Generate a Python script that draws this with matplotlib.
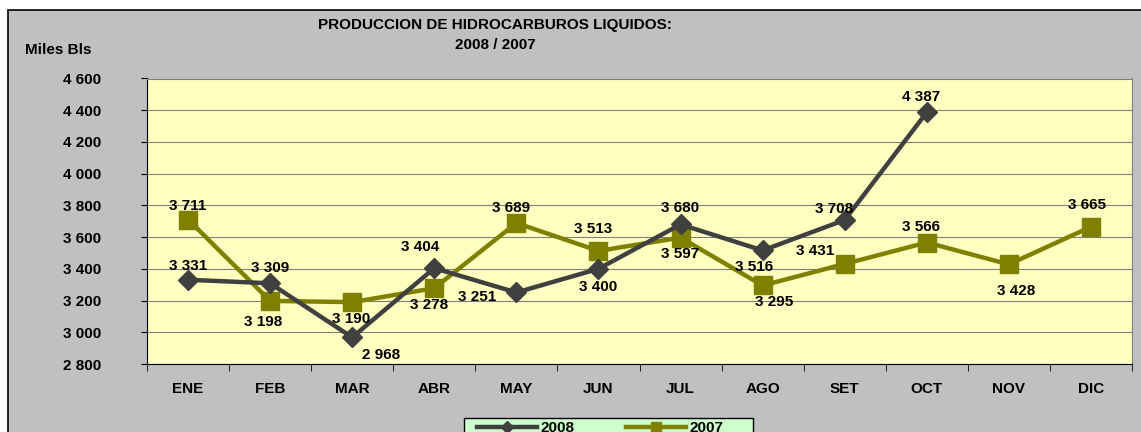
import matplotlib.pyplot as plt
from matplotlib.patches import Rectangle
from matplotlib.ticker import FuncFormatter

plt.rcParams['font.family'] = ['Liberation Sans', 'DejaVu Sans']
plt.rcParams['font.weight'] = 'bold'

# monthly production, thousand barrels
months = ['ENE', 'FEB', 'MAR', 'ABR', 'MAY', 'JUN', 'JUL', 'AGO', 'SET', 'OCT', 'NOV', 'DIC']
prod_2008 = [3331, 3309, 2968, 3404, 3251, 3400, 3680, 3516, 3708, 4387]
prod_2007 = [3711, 3198, 3190, 3278, 3689, 3513, 3597, 3295, 3431, 3566, 3428, 3665]

# label offsets in points (dx, dy) to mimic the excel placement
off_2008 = [(0, 10), (0, 11), (21, -13), (-10, 15), (-28, -3), (0, -13), (0, 12), (-6, -12), (-8, 8), (-4, 11)]
off_2007 = [(0, 10), (-5, -15), (-1, -12), (-4, -12), (-4, 11), (-4, 16), (0, -12), (8, -12), (-21, 9), (-4, 11), (5, -19), (-3, 16)]

FS = 11
W, H = 1141, 432

def fmt(v):
    return '{:,}'.format(int(v)).replace(',', ' ')

fig = plt.figure(figsize=(W / 100, H / 100), dpi=100, facecolor='white')
# gray chart area with black border (bottom/right run off the image)
fig.patches.append(Rectangle((8 / W, -0.1), 1.2, 1 - 10 / H + 0.1, transform=fig.transFigure,
                             facecolor='#C0C0C0', edgecolor='black', linewidth=1.2, zorder=-10))
# legend box, also cut by the bottom edge
fig.patches.append(Rectangle((464 / W, -0.1), 289 / W, 1 - 418 / H + 0.1, transform=fig.transFigure,
                             facecolor='#CCFFCC', edgecolor='black', linewidth=1.0, zorder=1))

ax = fig.add_axes([147 / W, 68 / H, 985 / W, 285.5 / H])
ax.set_facecolor('#FFFFC0')

x = list(range(len(months)))
ax.plot(x[:len(prod_2008)], prod_2008, color='#404040', lw=3.2, marker='D', ms=10,
        label='2008', zorder=4)
ax.plot(x, prod_2007, color='#808000', lw=3.2, marker='s', ms=12.5, label='2007', zorder=3)

for i, v in enumerate(prod_2008):
    ax.annotate(fmt(v), (i, v), xytext=off_2008[i], textcoords='offset points',
                ha='center', va='center', fontsize=FS, fontweight='bold', zorder=6)
for i, v in enumerate(prod_2007):
    ax.annotate(fmt(v), (i, v), xytext=off_2007[i], textcoords='offset points',
                ha='center', va='center', fontsize=FS, fontweight='bold', zorder=6)

ax.set_xlim(-0.5, 11.5)
ax.set_ylim(2800, 4600)
ax.set_yticks(range(2800, 4601, 200))
ax.yaxis.set_major_formatter(FuncFormatter(lambda v, p: fmt(v)))
ax.grid(axis='y', color='#808080', lw=0.8)
ax.set_axisbelow(True)

ax.set_xticks(x)
ax.set_xticklabels(months, fontsize=FS, fontweight='bold')
ax.set_xticks([i + 0.5 for i in range(-1, 12)], minor=True)
ax.tick_params(axis='x', which='major', length=0, pad=13)
ax.tick_params(axis='x', which='minor', length=5, direction='out', color='black')
ax.tick_params(axis='y', length=4, direction='out', pad=29, labelsize=FS)
for lbl in ax.get_yticklabels():
    lbl.set_fontweight('bold')
    lbl.set_horizontalalignment('right')

ax.spines['left'].set_color('black')
ax.spines['bottom'].set_color('black')
ax.spines['top'].set_color('#808080')
ax.spines['right'].set_color('#808080')

fig.text(495 / W, 1 - 25 / H, 'PRODUCCION DE HIDROCARBUROS LIQUIDOS:', ha='center', va='center',
         fontsize=FS, fontweight='bold')
fig.text(495 / W, 1 - 45 / H, '2008 / 2007', ha='center', va='center', fontsize=FS, fontweight='bold')
fig.text(25 / W, 1 - 50 / H, 'Miles Bls', ha='left', va='center', fontsize=FS, fontweight='bold')

leg = fig.legend(loc='upper left', bbox_to_anchor=(477 / W, 1 - 421 / H), ncol=2,
                 fontsize=FS, frameon=False, handlelength=3.9, handletextpad=0.25,
                 columnspacing=3.4, borderpad=0, borderaxespad=0, markerscale=0.6)
leg.set_zorder(5)
for t in leg.get_texts():
    t.set_fontweight('bold')

fig.savefig('out.png', dpi=100, facecolor=fig.get_facecolor())
